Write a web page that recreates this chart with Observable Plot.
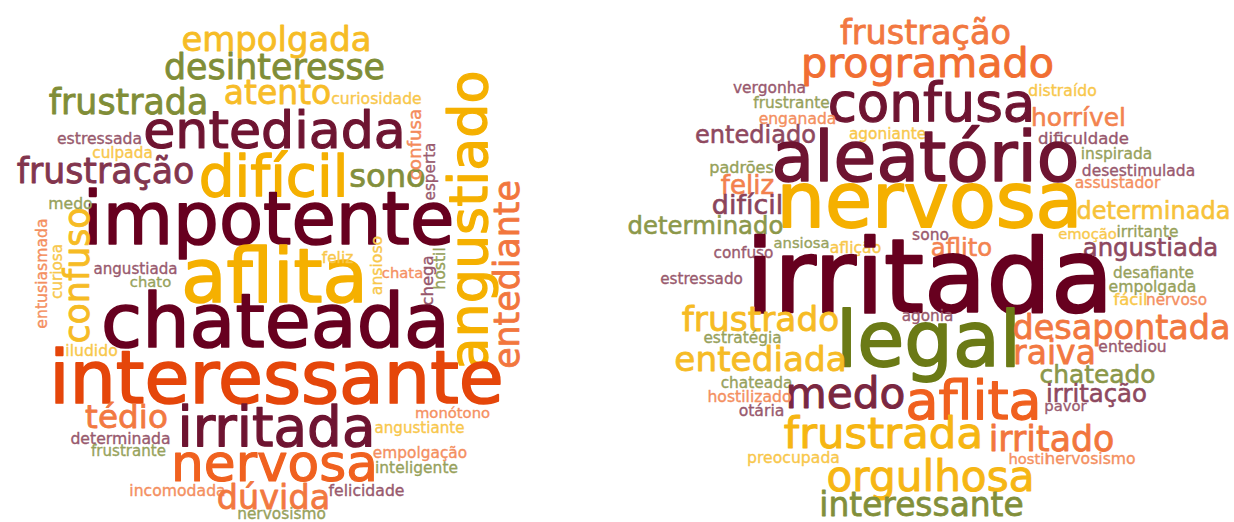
<!DOCTYPE html>
<html>
<head>
<meta charset="utf-8">
<script src="https://cdn.jsdelivr.net/npm/d3@7"></script>
<script src="https://cdn.jsdelivr.net/npm/@observablehq/plot@0.6"></script>
<style>
  html, body { margin: 0; padding: 0; background: #fff; }
  #chart svg { display: block; }
</style>
</head>
<body>
<div id="chart"></div>
<script>
// ---- Left cloud ----
const leftWords = ["empolgada","desinteresse","atento","curiosidade","frustrada","entediada","estressada","culpada","frustração","difícil","sono","confusa","esperta","angustiado","entediante","impotente","medo","confuso","entusiasmada","curiosa","angustiada","chato","iludido","aflita","feliz","ansioso","chata","chega","hostil","chateada","interessante","tédio","determinada","frustrante","irritada","nervosa","monótono","angustiante","empolgação","inteligente","felicidade","incomodada","dúvida","nervosismo"];
const leftWeight = [39,40,38,18,40,60,18,17.6,40,65,37,21,17.5,62,40,83,18,40,18,17.5,17.4,17,18,85,17.7,18,17,19,18,86,84,37.6,18,17.3,63,59.5,17,17.4,17.7,17.8,18,18,38.5,17.7];
const leftX = [276,274,277,376,128,274,99,122,105,273,387,420,434,486,518,268,70,88,46,61,135,150,91,274,337,381,402,432,444,275,276,126,120,128,276,274,452,419,419.5,416,366,177,273,281];
const leftY = [50,78,103,103,113,147,143,157,182,195,186,144,171,220,274,243,208,275,273,271,273,286,355,301,262,265,277,280,268,346,402,427,443,455,445,480,417,432,457,472,495,495,508,518];
const leftVertical = [0,0,0,0,0,0,0,0,0,0,0,1,1,1,1,0,0,1,1,1,0,0,0,0,0,1,0,1,1,0,0,0,0,0,0,0,0,0,0,0,0,0,0,0];
const leftGroup = ["y","g","y","y","g","r","r","y","r","y","g","o","r","y","o","m","g","y","o","y","r","g","y","y","y","y","o","r","g","m","R","o","r","g","r","o","o","y","o","g","r","o","o","g"];

// ---- Right cloud ----
const rightWords = ["frustração","programado","vergonha","frustrante","confusa","enganada","distraído","horrível","entediado","agoniante","dificuldade","aleatório","inspirada","desestimulada","assustador","padrões","feliz","nervosa","difícil","determinada","determinado","ansiosa","aflição","sono","aflito","emoção","irritante","angustiada","confuso","irritada","estressado","desafiante","empolgada","fácil","nervoso","agonia","frustrado","legal","estratégia","desapontada","entediada","raiva","entediou","chateado","chateada","medo","hostilizado","otária","aflita","irritação","pavor","frustrada","irritado","preocupada","hostil","nervosismo","orgulhosa","interessante"];
const rightWeight = [38.5,47.5,17.8,17.7,61,17.9,18,28.6,27.7,17.7,19,80,17.8,17.8,18,18.5,30,88,31,27.7,28,17,18,17.8,28,17,17.8,28,17.6,117,17.5,17.7,18,19,17.6,17.6,39.6,88,17.7,38.5,39.4,38,17.8,28.6,17.7,48.6,18,18,62,28,17,50,40,18,17,18,48.5,37.8];
const rightX = [925,927,769,791,931,797,1062,1078,755,887,1083,925,1116,1138,1117,741,747,929,747,1153,705,801,855,930,961,1087,1147,1150,743,929,701,1153,1152,1130,1176,927,760,928,742,1121,760,1054,1132,1097,756,845,749,761,973,1096,1065,883,1051,793,1028,1090,930,921];
const rightY = [43,76,92,107,120,123,95,125,142,138,143,180,158,175,187,172,193,226,213,218,233,247,252,239,255,238,236,255,257,311,283,277,291,304,304,320,330,365,342,338,370,363,351,382,387,407,401,415,418,401,410,447,450,462,463,463,490,515];
const rightGroup = ["o","o","r","g","r","o","y","o","r","y","r","r","g","r","o","g","o","y","r","y","g","g","y","r","o","y","g","r","r","m","r","g","g","y","o","r","y","g","g","o","y","o","r","g","g","r","o","r","o","r","r","y","o","y","o","o","y","g"];

// ---- Palette ----
const groupKeys = ["m","r","g","y","o","R"];
const groupColors = ["#67001f","#6e1431","#6b7a16","#f5b000","#f0601e","#e5460a"];
const palette = new Map(groupKeys.map((k, i) => [k, groupColors[i]]));

function table(words, weight, xs, ys, group, vertical) {
  return words.map((w, i) => ({
    word: w, weight: weight[i], x: xs[i], y: ys[i], group: group[i],
    vertical: vertical ? vertical[i] : 0
  }));
}
const leftData = table(leftWords, leftWeight, leftX, leftY, leftGroup, leftVertical);
const rightData = table(rightWords, rightWeight, rightX, rightY, rightGroup, null);

// smaller words are drawn in a paler tint of their colour
const tint = d => {
  const a = 0.7 + 0.3 * Math.max(0, Math.min(1, (d.weight - 17) / 43));
  return d3.interpolateRgb("#ffffff", palette.get(d.group))(a);
};
const textOpts = {
  x: "x", y: "y", text: "word",
  fontSize: d => d.weight * 0.87,
  rotate: d => d.vertical ? -90 : 0,
  fill: tint,
  stroke: tint,
  strokeWidth: d => d.weight * 0.02,
  paintOrder: "stroke",
  textAnchor: "middle",
  lineAnchor: "bottom",
  fontFamily: "'Comic Sans MS', 'DejaVu Sans', sans-serif"
};

const chart = Plot.plot({
  width: 1234,
  height: 522,
  margin: 0,
  style: {background: "#fff"},
  x: {domain: [0, 1234], axis: null},
  y: {domain: [0, 522], range: [0, 522], axis: null},
  marks: [
    Plot.text(leftData, textOpts),
    Plot.text(rightData, textOpts)
  ]
});
document.getElementById("chart").appendChild(chart);
</script>
</body>
</html>
